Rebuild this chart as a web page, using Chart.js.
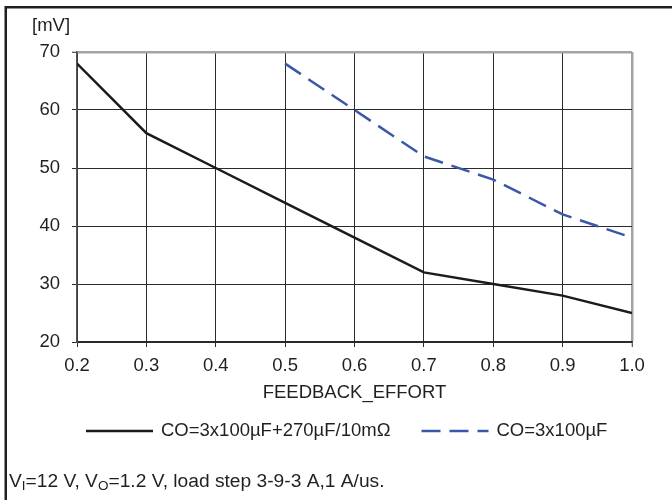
<!DOCTYPE html>
<html>
<head>
<meta charset="utf-8">
<script src="https://cdn.jsdelivr.net/npm/chart.js@4/dist/chart.umd.min.js"></script>
<style>
  html, body { margin: 0; padding: 0; background: #fff; }
  #wrap { width: 672px; height: 500px; position: relative; }
</style>
</head>
<body>
<div id="wrap"><canvas id="chart" width="672" height="500"></canvas></div>
<script>
// values
const feedbackEffort = [0.2, 0.3, 0.4, 0.5, 0.6, 0.7, 0.8, 0.9, 1.0];
const rippleWithPolymer = [68, 56, 50, 44, 38, 32, 30, 28, 25];   // CO=3x100µF+270µF/10mΩ
const rippleCeramicOnly = [null, null, null, 68, 60, 52, 48, 42, 38]; // CO=3x100µF
const seriesLabels = ['CO=3x100\u00B5F+270\u00B5F/10m\u03A9', 'CO=3x100\u00B5F'];
const yUnit = '[mV]';
const xTitle = 'FEEDBACK_EFFORT';

const FONT = '"Liberation Sans", Arial, sans-serif';
const FS = 18.5;
const INK = '#231f20';
const EDGE = '#a3a3a5';

function toPoints(xs, ys) {
    const pts = [];
    xs.forEach((x, i) => { if (ys[i] !== null) pts.push({ x: x, y: ys[i] }); });
    return pts;
}

// outer frame, unit label, legend and footnote
const decorPlugin = {
    id: 'decor',
    beforeDraw(chart) {
        const ctx = chart.ctx;
        ctx.save();
        ctx.fillStyle = '#fff';
        ctx.fillRect(0, 0, chart.width, chart.height);
        ctx.strokeStyle = INK;
        ctx.lineWidth = 2.5;
        ctx.strokeRect(5.75, 7.25, chart.width + 20, chart.height + 20);
        ctx.restore();
    },
    afterDraw(chart) {
        const ctx = chart.ctx;
        ctx.save();
        ctx.fillStyle = INK;
        ctx.font = FS + 'px ' + FONT;
        ctx.textBaseline = 'middle';
        ctx.textAlign = 'left';
        ctx.fillText(yUnit, 32, 26);

        // legend
        let x = 86;
        const ly = 431;
        chart.data.datasets.forEach(ds => {
            ctx.strokeStyle = ds.borderColor;
            ctx.lineWidth = ds.borderWidth;
            ctx.setLineDash(ds.borderDash || []);
            ctx.beginPath();
            ctx.moveTo(x, ly);
            ctx.lineTo(x + 67, ly);
            ctx.stroke();
            ctx.setLineDash([]);
            ctx.fillText(ds.label, x + 75, ly);
            x += 75 + ctx.measureText(ds.label).width + 31;
        });

        // footnote with subscripts
        const parts = [['V', 0], ['I', 1], ['=12 V, V', 0], ['O', 1], ['=1.2 V, load step 3-9-3 A,1 A/us.', 0]];
        ctx.textBaseline = 'alphabetic';
        let fx = 9;
        parts.forEach(p => {
            ctx.font = (p[1] ? '13.5px ' : '19.2px ') + FONT;
            ctx.fillText(p[0], fx, p[1] ? 490 : 487);
            fx += ctx.measureText(p[0]).width;
        });
        ctx.restore();
    }
};

new Chart(document.getElementById('chart'), {
    type: 'line',
    data: {
        datasets: [
            {
                label: seriesLabels[0],
                data: toPoints(feedbackEffort, rippleWithPolymer),
                borderColor: '#1c1a1b',
                borderWidth: 2.5,
                pointRadius: 0,
                tension: 0,
                fill: false
            },
            {
                label: seriesLabels[1],
                data: toPoints(feedbackEffort, rippleCeramicOnly),
                borderColor: '#3a57a9',
                borderWidth: 2.5,
                borderDash: [19, 9],
                pointRadius: 0,
                tension: 0,
                fill: false
            }
        ]
    },
    options: {
        responsive: false,
        animation: false,
        devicePixelRatio: 1,
        layout: { padding: { top: 52, left: 17, right: 40, bottom: 96 } },
        plugins: {
            legend: { display: false },
            tooltip: { enabled: false }
        },
        scales: {
            x: {
                type: 'linear',
                min: 0.2,
                max: 1.0,
                ticks: {
                    stepSize: 0.1,
                    color: INK,
                    font: { family: FONT, size: FS },
                    padding: 8,
                    maxRotation: 0,
                    callback: v => v.toFixed(1)
                },
                grid: {
                    color: c => (c.tick && Math.abs(c.tick.value - 1.0) < 1e-6) ? EDGE : '#2b2b2b',
                    lineWidth: c => (c.tick && Math.abs(c.tick.value - 1.0) < 1e-6) ? 2.5 : 1,
                    tickColor: '#2b2b2b',
                    tickLength: 5,
                    tickWidth: 1
                },
                border: { color: '#2b2b2b', width: 1.5 },
                title: {
                    display: true,
                    text: xTitle,
                    color: INK,
                    font: { family: FONT, size: FS },
                    padding: { top: 0, bottom: 0 }
                },
                afterFit: s => { s.height = 62; }
            },
            y: {
                min: 20,
                max: 70,
                ticks: {
                    stepSize: 10,
                    color: INK,
                    font: { family: FONT, size: FS },
                    padding: 12
                },
                grid: {
                    color: c => (c.tick && c.tick.value === 70) ? EDGE : '#2b2b2b',
                    lineWidth: c => (c.tick && c.tick.value === 70) ? 2.5 : 1,
                    tickColor: '#2b2b2b',
                    tickLength: 5,
                    tickWidth: 1
                },
                border: { color: '#555', width: 1.5 },
                afterFit: s => { s.width = 60; }
            }
        }
    },
    plugins: [decorPlugin]
});
</script>
</body>
</html>
